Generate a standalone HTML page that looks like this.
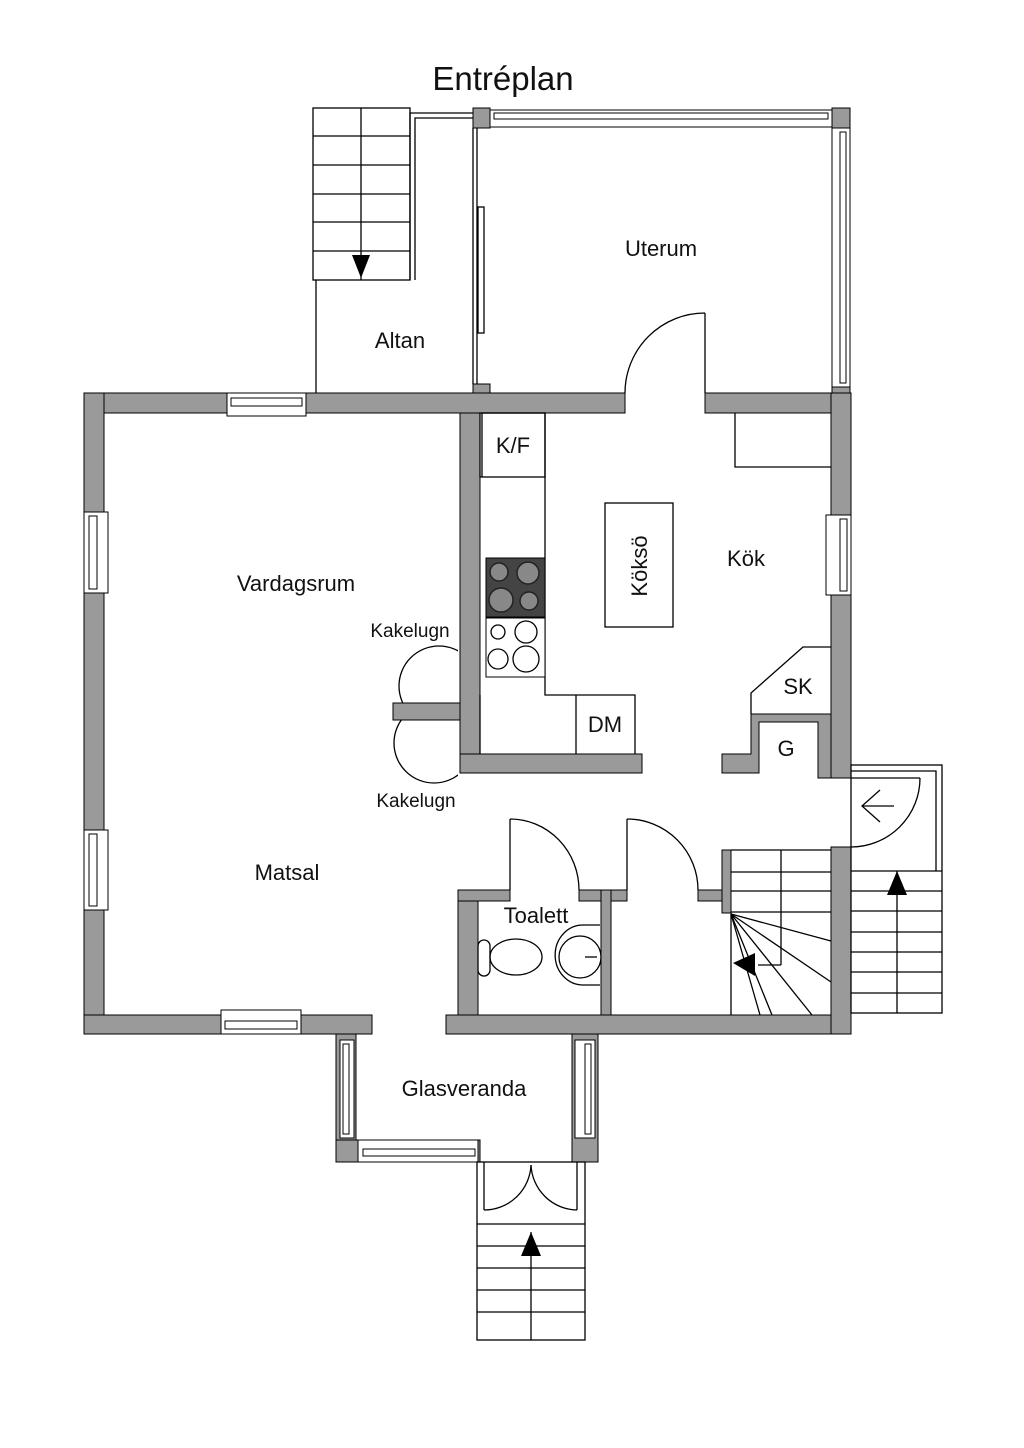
<!DOCTYPE html>
<html><head><meta charset="utf-8"><style>
html,body{margin:0;padding:0;background:#fff;}
svg{display:block;}
text{font-family:"Liberation Sans",sans-serif;fill:#111;}
</style></head><body>
<svg width="1024" height="1448" viewBox="0 0 1024 1448" xmlns="http://www.w3.org/2000/svg">
<defs>
<clipPath id="cu"><rect x="300" y="600" width="158" height="103"/></clipPath>
<clipPath id="cl"><rect x="300" y="720" width="158" height="100"/></clipPath>
</defs>
<rect width="1024" height="1448" fill="#fff"/>
<text x="503" y="90" font-size="33" text-anchor="middle">Entréplan</text>

<!-- kakelugn -->
<g fill="none" stroke="#000" stroke-width="1.3">
<circle cx="439" cy="686" r="40" clip-path="url(#cu)"/>
<circle cx="434" cy="743" r="40" clip-path="url(#cl)"/>
</g>

<g fill="#9a9a9a" stroke="#000" stroke-width="1">
<rect x="84" y="393" width="541" height="20"/>
<rect x="705" y="393" width="145" height="20"/>
<rect x="84" y="393" width="20" height="641"/>
<polygon points="84,1015 372,1015 372,1034 356,1034 356,1040 336,1040 336,1034 84,1034"/>
<rect x="336" y="1034" width="20" height="128"/>
<rect x="336" y="1140" width="144" height="22"/>
<rect x="572" y="1034" width="26" height="128"/>
<rect x="446" y="1015" width="404" height="19"/>
<rect x="831" y="393" width="20" height="385"/>
<rect x="831" y="847" width="20" height="187"/>
<rect x="460" y="413" width="20" height="360"/>
<rect x="393" y="703" width="67" height="17"/>
<rect x="460" y="754" width="182" height="19"/>
<polygon points="722,754 751,754 751,714 831,714 831,778 818,778 818,722 759,722 759,773 722,773"/>
<rect x="458" y="890" width="20" height="125"/>
<rect x="458" y="890" width="52" height="11"/>
<rect x="579" y="890" width="48" height="11"/>
<rect x="601" y="890" width="10" height="125"/>
<rect x="698" y="890" width="33" height="11"/>
<rect x="722" y="850" width="9" height="63"/>
<rect x="473" y="108" width="17" height="20"/>
<rect x="473" y="384" width="17" height="9"/>
<rect x="832" y="108" width="18" height="20"/>
<rect x="832" y="387" width="18" height="6"/>
</g>

<g fill="#fff" stroke="#000" stroke-width="1">
<rect x="227" y="393" width="79" height="23"/><rect x="231" y="398" width="71" height="8"/>
<rect x="84" y="512" width="24" height="81"/><rect x="89" y="516" width="8" height="73"/>
<rect x="84" y="830" width="24" height="80"/><rect x="89" y="834" width="8" height="72"/>
<rect x="221" y="1010" width="80" height="24"/><rect x="225" y="1021" width="72" height="8"/>
<rect x="340" y="1040" width="14" height="98"/><rect x="343" y="1044" width="6" height="90"/>
<rect x="575" y="1040" width="20" height="98"/><rect x="585" y="1044" width="6" height="90"/>
<rect x="358" y="1140" width="120" height="22"/><rect x="363" y="1149" width="112" height="7"/>
<rect x="826" y="515" width="25" height="80"/><rect x="840" y="519" width="7" height="72"/>
<rect x="490" y="110" width="342" height="17"/><rect x="494" y="113" width="334" height="6"/>
<rect x="832" y="128" width="18" height="259"/><rect x="840" y="132" width="6" height="251"/>
</g>

<g fill="none" stroke="#000" stroke-width="1.3">
<rect x="313" y="108" width="97" height="172"/>
<line x1="361" y1="108" x2="361" y2="280"/>
<line x1="313" y1="136" x2="410" y2="136"/><line x1="313" y1="165" x2="410" y2="165"/>
<line x1="313" y1="194" x2="410" y2="194"/><line x1="313" y1="222" x2="410" y2="222"/>
<line x1="313" y1="251" x2="410" y2="251"/>
<line x1="316" y1="280" x2="316" y2="393"/>
<polyline points="410,280 410,113 473,113"/><polyline points="415,280 415,118 473,118"/>
<line x1="473" y1="128" x2="473" y2="384"/><line x1="477" y1="128" x2="477" y2="384"/>
<rect x="478" y="207" width="6" height="126"/>
<line x1="705" y1="313" x2="705" y2="393"/>
<path d="M705,313 A80,80 0 0 0 625,393"/>
<rect x="480" y="413" width="65" height="64"/>
<polyline points="482,477 482,413 545,413 545,695 635,695 635,754"/>
<line x1="576" y1="695" x2="576" y2="754"/>
<line x1="480" y1="695" x2="480" y2="754"/>
<rect x="605" y="503" width="68" height="124"/>
<polyline points="735,413 735,467 831,467"/>
<polyline points="831,647 803,647 751,693 751,714"/>
<line x1="510" y1="819" x2="510" y2="890"/><path d="M510,819 A69,71 0 0 1 579,890"/>
<line x1="627" y1="819" x2="627" y2="890"/><path d="M627,819 A71,71 0 0 1 698,890"/>
<ellipse cx="516" cy="957" rx="26" ry="18"/>
<rect x="478" y="940" width="12" height="36" rx="6"/>
<path d="M600,925 L583,925 A26,28 0 0 0 583,985 L600,985"/>
<circle cx="580" cy="957" r="21"/>
<line x1="585" y1="957" x2="597" y2="957"/>
<line x1="731" y1="850" x2="831" y2="850"/>
<line x1="731" y1="872" x2="831" y2="872"/>
<line x1="731" y1="891" x2="831" y2="891"/>
<line x1="731" y1="912" x2="831" y2="912"/>
<line x1="781" y1="850" x2="781" y2="965"/>
<line x1="758" y1="965" x2="781" y2="965"/>
<line x1="731" y1="913" x2="731" y2="1015"/>
<line x1="731" y1="914" x2="831" y2="941"/>
<line x1="731" y1="914" x2="831" y2="982"/>
<line x1="731" y1="914" x2="812" y2="1015"/>
<line x1="731" y1="914" x2="772" y2="1015"/>
<line x1="731" y1="914" x2="760" y2="1015"/>
<rect x="851" y="765" width="91" height="248"/>
<polyline points="851,771 936,771 936,871"/>
<line x1="851" y1="778" x2="920" y2="778"/>
<path d="M920,778 A69,69 0 0 1 851,847"/>
<polyline points="880,790 862,806 880,822"/><line x1="862" y1="806" x2="894" y2="806"/>
<line x1="851" y1="871" x2="942" y2="871"/><line x1="851" y1="891" x2="942" y2="891"/>
<line x1="851" y1="911" x2="942" y2="911"/><line x1="851" y1="932" x2="942" y2="932"/>
<line x1="851" y1="952" x2="942" y2="952"/><line x1="851" y1="972" x2="942" y2="972"/>
<line x1="851" y1="993" x2="942" y2="993"/>
<line x1="897" y1="871" x2="897" y2="1013"/>
<rect x="477" y="1162" width="108" height="178"/>
<line x1="484" y1="1162" x2="484" y2="1210"/><line x1="577" y1="1162" x2="577" y2="1210"/>
<path d="M484,1210 A47,47 0 0 0 531,1165"/><path d="M577,1210 A47,47 0 0 1 531,1165"/>
<line x1="477" y1="1224" x2="585" y2="1224"/><line x1="477" y1="1246" x2="585" y2="1246"/>
<line x1="477" y1="1268" x2="585" y2="1268"/><line x1="477" y1="1290" x2="585" y2="1290"/>
<line x1="477" y1="1312" x2="585" y2="1312"/>
<line x1="531" y1="1232" x2="531" y2="1340"/>
</g>

<rect x="486" y="558" width="59" height="59" fill="#444" stroke="#000"/>
<g fill="#888" stroke="#222" stroke-width="1.5">
<circle cx="499" cy="572" r="9"/><circle cx="528" cy="573" r="11"/>
<circle cx="501" cy="600" r="12"/><circle cx="529" cy="601" r="9"/>
</g>
<rect x="486" y="618" width="59" height="59" fill="#fff" stroke="#000"/>
<g fill="none" stroke="#000" stroke-width="1.3">
<circle cx="498" cy="632" r="7"/><circle cx="526" cy="632" r="11"/>
<circle cx="498" cy="659" r="10"/><circle cx="526" cy="659" r="13"/>
</g>

<g fill="#000">
<polygon points="352,255 370,255 361,278"/>
<polygon points="887,895 907,895 897,871"/>
<polygon points="521,1256 541,1256 531,1232"/>
<polygon points="733,963 755,953 755,976"/>
</g>

<g font-size="22">
<text x="661" y="256" text-anchor="middle">Uterum</text>
<text x="400" y="348" text-anchor="middle">Altan</text>
<text x="513" y="453" text-anchor="middle">K/F</text>
<text x="296" y="591" text-anchor="middle">Vardagsrum</text>
<text x="746" y="566" text-anchor="middle">Kök</text>
<text x="798" y="694" text-anchor="middle">SK</text>
<text x="605" y="732" text-anchor="middle">DM</text>
<text x="786" y="756" text-anchor="middle">G</text>
<text x="287" y="880" text-anchor="middle">Matsal</text>
<text x="536" y="923" text-anchor="middle">Toalett</text>
<text x="464" y="1096" text-anchor="middle">Glasveranda</text>
<text transform="translate(647,566) rotate(-90)" text-anchor="middle">Köksö</text>
</g>
<g font-size="19">
<text x="410" y="637" text-anchor="middle">Kakelugn</text>
<text x="416" y="807" text-anchor="middle">Kakelugn</text>
</g>
</svg>
</body></html>
